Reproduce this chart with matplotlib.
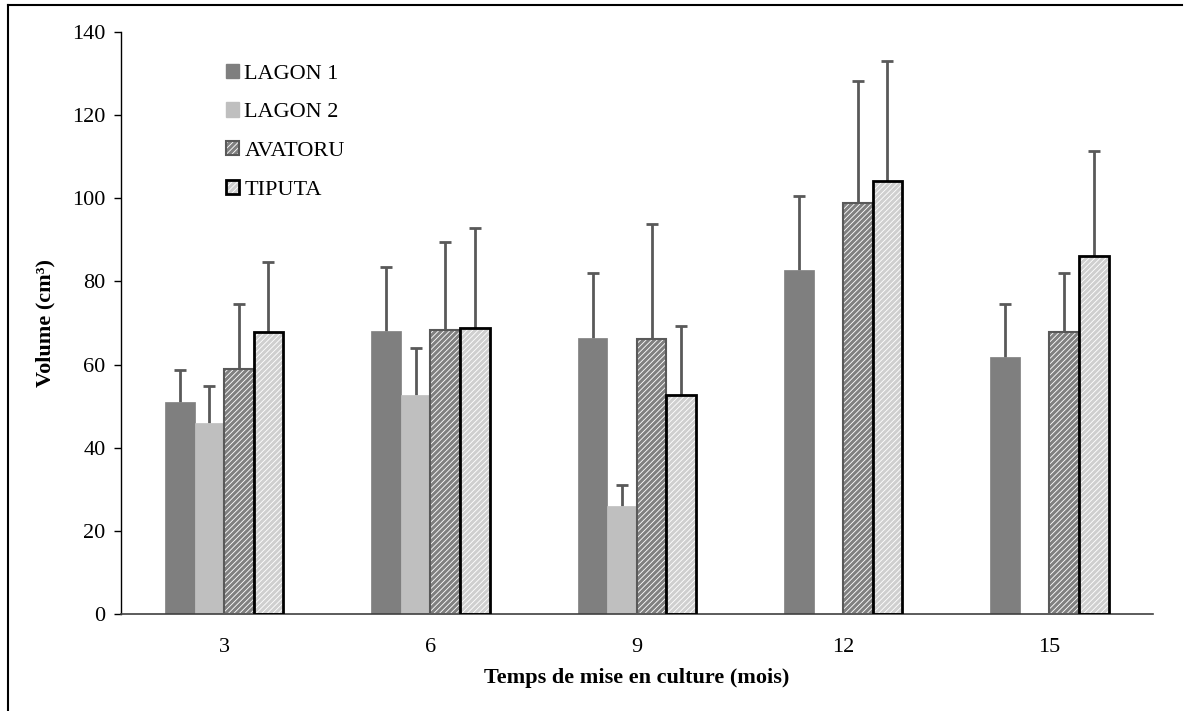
import numpy as np
import matplotlib.pyplot as plt
from matplotlib.lines import Line2D
from matplotlib.legend_handler import HandlerTuple

plt.rcParams['font.family'] = ['Liberation Serif', 'DejaVu Serif']

# data
months = ['3', '6', '9', '12', '15']
series = ['LAGON 1', 'LAGON 2', 'AVATORU', 'TIPUTA']
lagon1 = [51.0, 68.0, 66.3, 82.8, 61.8]
lagon1_err = [7.7, 15.5, 15.7, 17.7, 12.7]
lagon2 = [46.0, 52.8, 26.0, np.nan, np.nan]
lagon2_err = [8.8, 11.2, 5.0, np.nan, np.nan]
avatoru = [59.0, 68.3, 66.2, 98.8, 67.8]
avatoru_err = [15.5, 21.3, 27.6, 29.5, 14.2]
tiputa = [67.8, 68.8, 52.7, 104.2, 86.1]
tiputa_err = [16.9, 24.0, 16.6, 28.8, 25.3]

values = [lagon1, lagon2, avatoru, tiputa]
errors = [lagon1_err, lagon2_err, avatoru_err, tiputa_err]

fig = plt.figure(figsize=(11.92, 7.11), dpi=100)
ax = fig.add_axes([0.1015, 0.1364, 0.8655, 0.8186])

x = np.arange(len(months))
w = 0.143
offsets = (np.arange(4) - 1.5) * w

plt.rcParams['hatch.linewidth'] = 2.2
handles = []
for i, (vals, errs) in enumerate(zip(values, errors)):
    xs = x + offsets[i]
    vals = np.array(vals, dtype=float)
    ok = ~np.isnan(vals)
    if i == 0:
        ax.bar(xs[ok], vals[ok], w, color='#7f7f7f', edgecolor='#7f7f7f', lw=0.5, zorder=2)
        h = plt.Rectangle((0, 0), 1, 1, facecolor='#7f7f7f', edgecolor='#7f7f7f')
    elif i == 1:
        ax.bar(xs[ok], vals[ok], w, color='#bfbfbf', edgecolor='#bfbfbf', lw=0.5, zorder=2)
        h = plt.Rectangle((0, 0), 1, 1, facecolor='#bfbfbf', edgecolor='#bfbfbf')
    elif i == 2:
        ax.bar(xs[ok], vals[ok], w, color='white', edgecolor='#808080', hatch='//////', lw=0, zorder=2)
        ax.bar(xs[ok], vals[ok], w, fill=False, edgecolor='#595959', lw=1.5, zorder=3)
        h = (plt.Rectangle((0, 0), 1, 1, facecolor='white', edgecolor='#808080', hatch='//////', lw=0),
             plt.Rectangle((0, 0), 1, 1, fill=False, edgecolor='#595959', lw=1.5))
    else:
        ax.bar(xs[ok], vals[ok], w, color='white', edgecolor='#cfcfcf', hatch='//////', lw=0, zorder=2)
        ax.bar(xs[ok], vals[ok], w, fill=False, edgecolor='black', lw=2, zorder=3)
        h = (plt.Rectangle((0, 0), 1, 1, facecolor='white', edgecolor='#cfcfcf', hatch='//////', lw=0),
             plt.Rectangle((0, 0), 1, 1, fill=False, edgecolor='black', lw=2))
    errs = np.array(errs, dtype=float)
    eb = ax.errorbar(xs[ok], vals[ok], yerr=[np.zeros(ok.sum()), errs[ok]], fmt='none',
                     ecolor='#595959', elinewidth=2, capsize=4.5, capthick=2, zorder=1)
    # keep only the upper cap
    eb[1][0].set_visible(False)
    handles.append(h)

ax.set_xlim(-0.5, 4.5)
ax.set_ylim(0, 140)
ax.set_yticks(range(0, 141, 20))
ax.set_xticks(x)
ax.set_xticklabels(months)
ax.tick_params(axis='x', length=0, labelsize=16, pad=17)
ax.tick_params(axis='y', length=5, width=1, labelsize=16, direction='out', pad=6)
for s in ['top', 'right']:
    ax.spines[s].set_visible(False)
ax.spines['left'].set_linewidth(1)
ax.spines['bottom'].set_linewidth(1.2)
ax.spines['bottom'].set_color('#404040')

ax.set_ylabel('Volume (cm³)', fontsize=16, fontweight='bold', labelpad=12)
ax.set_xlabel('Temps de mise en culture (mois)', fontsize=16, fontweight='bold', labelpad=8)

ax.legend(handles, series, loc='upper left', bbox_to_anchor=(0.082, 0.98), frameon=False,
          fontsize=16, handlelength=0.6, handleheight=0.6, handletextpad=0.25, labelspacing=0.85,
          handler_map={tuple: HandlerTuple(ndivide=1)})

# frame of the picture (top and left edges only visible)
fig.add_artist(Line2D([8 / 1192, 1182 / 1192], [1 - 5 / 711, 1 - 5 / 711], color='black', lw=1.5))
fig.add_artist(Line2D([8 / 1192, 8 / 1192], [0, 1 - 5 / 711], color='black', lw=1.5))

fig.savefig('out.png', dpi=100)
